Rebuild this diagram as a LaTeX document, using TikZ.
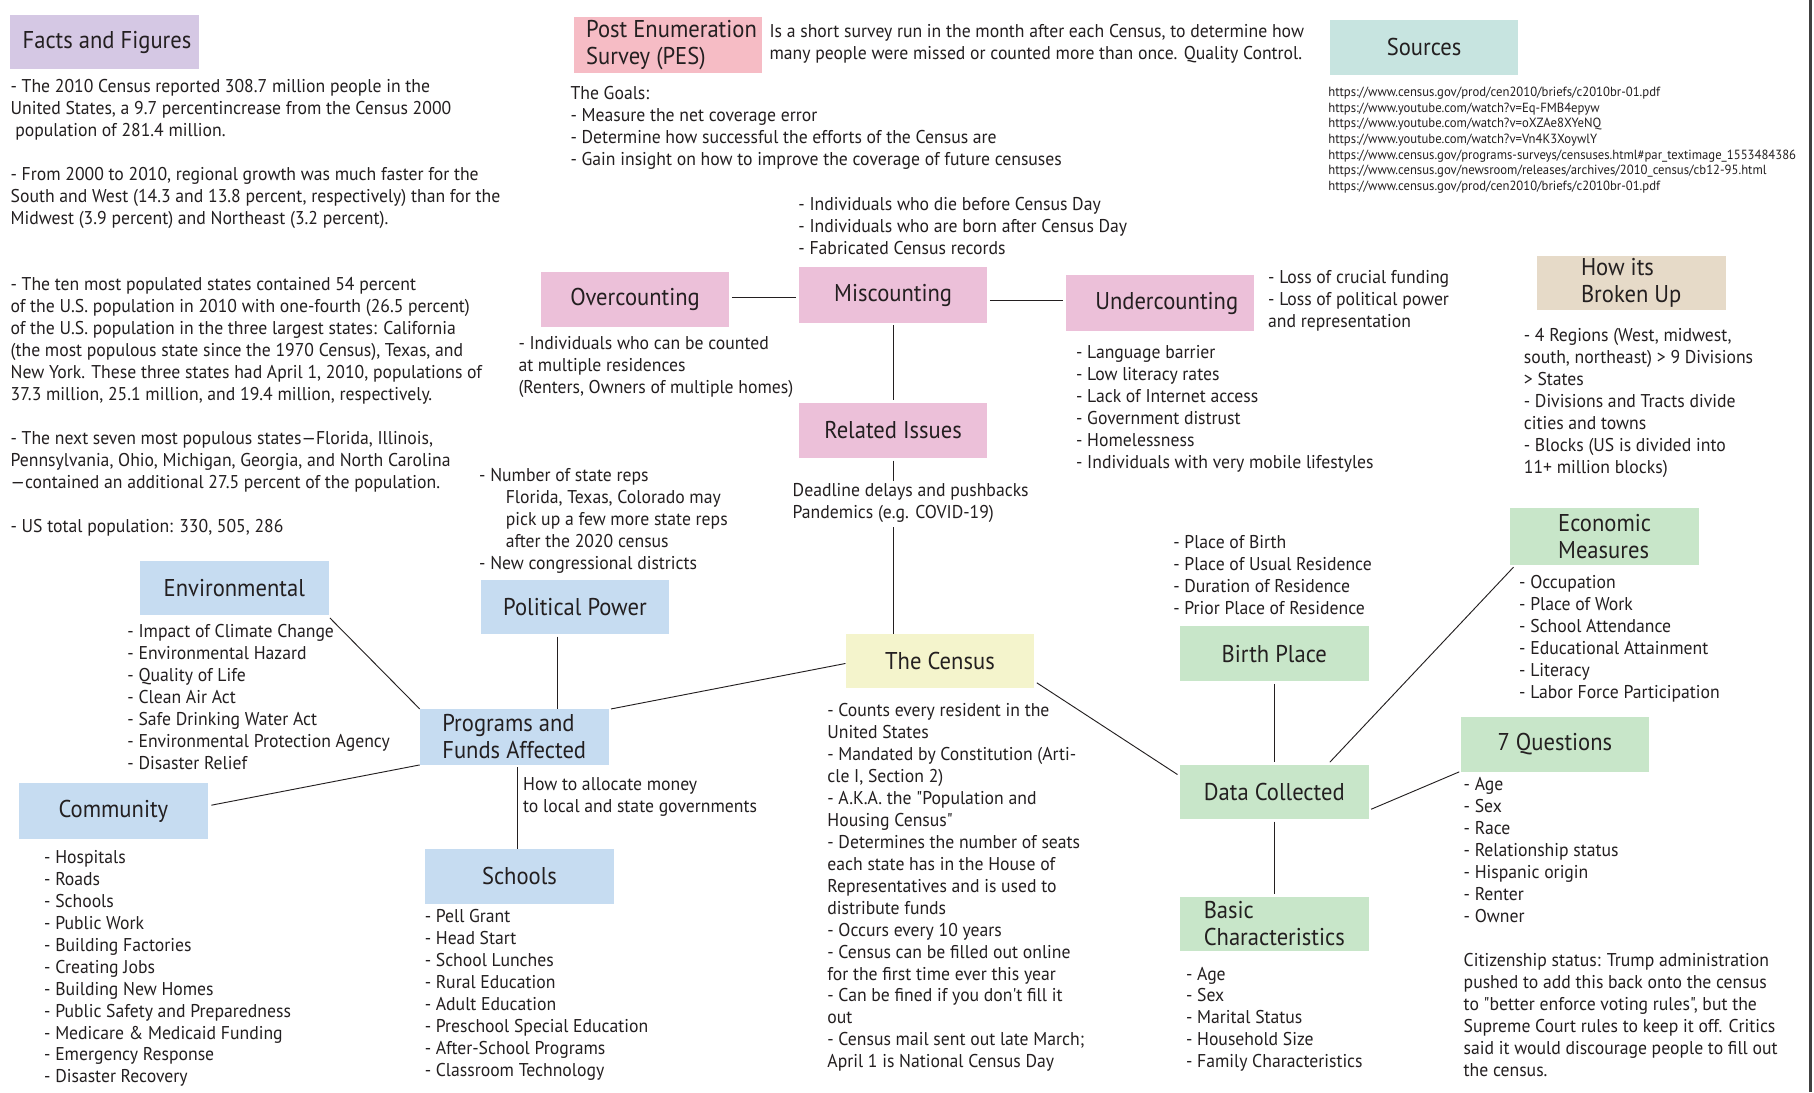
\documentclass[tikz,border=0pt]{standalone}
\usepackage{fontspec}
\setmainfont[FakeStretch=0.955, Ligatures=TeXOff]{PT Sans}
\newfontfamily\titlefam[FakeStretch=0.93, Ligatures=TeXOff]{PT Sans}
\usetikzlibrary{calc}
\definecolor{ink}{HTML}{231F20}
\definecolor{cFacts}{HTML}{D5C8E4}
\definecolor{cPes}{HTML}{F6BCC5}
\definecolor{cSrc}{HTML}{C7E4E0}
\definecolor{cMis}{HTML}{ECC0D9}
\definecolor{cHow}{HTML}{E6DAC8}
\definecolor{cBlue}{HTML}{C6DCF1}
\definecolor{cCen}{HTML}{F4F4CC}
\definecolor{cGreen}{HTML}{C8E6C9}
\newcommand\myBody{\fontsize{16}{19}\selectfont}
\newcommand\myTitle{\titlefam\fontsize{21}{23.5}\selectfont}
\newcommand\myUrl{\fontsize{11.5}{13.5}\selectfont}
\tikzset{
  box/.style={rectangle, inner sep=0pt, minimum width=163pt, minimum height=48pt, font=\myTitle, text=ink, align=left},
  txt/.style={anchor=north west, inner sep=0pt, align=left, font=\myBody, text=ink},
  link/.style={draw=ink, line width=0.8pt},
}
\begin{document}
\begin{tikzpicture}[x=1pt,y=-1pt]
\useasboundingbox (0,0) rectangle (1568,944);
\fill[white] (0,0) rectangle (1568,944);
\draw[line width=2pt, draw=black!75] (1565,0) -- (1565,944);

% ---------- boxes ----------
\node[box, fill=cFacts, minimum height=47pt] (facts) at (90.5,36.5) {\hspace*{4pt}Facts and Figures};
\node[box, fill=cPes] (pes) at (577.5,39) {\hspace*{6pt}Post Enumeration\\\hspace*{6pt}Survey (PES)};
\node[box, fill=cSrc] (src) at (1231,41) {Sources};
\node[box, fill=cMis] (over) at (549,259) {Overcounting};
\node[box, fill=cMis] (misc) at (772,255) {\raisebox{3pt}{Miscounting}};
\node[box, fill=cMis] (under) at (1002.5,262) {\hspace*{12pt}Undercounting};
\node[box, fill=cMis] (rel) at (772,372) {Related Issues};
\node[box, fill=cHow, minimum height=47pt] (how) at (1410,244.5) {How its\\Broken Up};
\node[box, fill=cBlue, minimum height=47pt] (env) at (202.5,508.5) {Environmental};
\node[box, fill=cBlue, minimum height=47pt] (pol) at (497,524.5) {Political Power};
\node[box, fill=cBlue] (prog) at (444.5,637) {Programs and\\Funds Affected};
\node[box, fill=cBlue] (comm) at (98,701) {Community};
\node[box, fill=cBlue, minimum height=47pt] (sch) at (449,757.5) {Schools};
\node[box, fill=cCen, minimum height=47pt] (cen) at (812.5,571.5) {The Census};
\node[box, fill=cGreen] (birth) at (1101.5,565) {Birth Place};
\node[box, fill=cGreen, minimum height=47pt] (data) at (1101.5,684.5) {Data Collected};
\node[box, fill=cGreen, minimum height=47pt] (basic) at (1101.5,798.5) {Basic\\Characteristics};
\node[box, fill=cGreen, minimum height=49pt] (econ) at (1387,463.5) {Economic\\Measures};
\node[box, fill=cGreen, minimum height=47pt] (q7) at (1344,643.5) {7 Questions};

% ---------- texts ----------
\node[txt] (factstxt) at (9,66.6) {\strut- The 2010 Census reported 308.7 million people in the\\
United States, a 9.7 percentincrease from the Census 2000\\
\hspace*{4pt}population of 281.4 million.\\ \strut\\
- From 2000 to 2010, regional growth was much faster for the\\
South and West (14.3 and 13.8 percent, respectively) than for the\\
Midwest (3.9 percent) and Northeast (3.2 percent).\\ \strut\\ \strut\\
- The ten most populated states contained 54 percent\\
of the U.S. population in 2010 with one-fourth (26.5 percent)\\
of the U.S. population in the three largest states: California\\
(the most populous state since the 1970 Census), Texas, and\\
New York. These three states had April 1, 2010, populations of\\
37.3 million, 25.1 million, and 19.4 million, respectively.\\ \strut\\
- The next seven most populous states—Florida, Illinois,\\
Pennsylvania, Ohio, Michigan, Georgia, and North Carolina\\
—contained an additional 27.5 percent of the population.\\ \strut\\
- US total population: 330, 505, 286};

\node[txt] (pestxt) at (665,18.6) {\strut Is a short survey run in the month after each Census, to determine how\\
many people were missed or counted more than once. Quality Control.};

\node[txt] (goals) at (493,72.6) {\strut The Goals:\\
- Measure the net coverage error\\
- Determine how successful the efforts of the Census are\\
- Gain insight on how to improve the coverage of future censuses};

\node[txt, font=\myUrl] (urls) at (1148,73.8) {\strut https://www.census.gov/prod/cen2010/briefs/c2010br-01.pdf\\
https://www.youtube.com/watch?v=Eq-FMB4epyw\\
https://www.youtube.com/watch?v=oXZAe8XYeNQ\\
https://www.youtube.com/watch?v=Vn4K3XoywlY\\
https://www.census.gov/programs-surveys/censuses.html\#par\_textimage\_1553484386\\
https://www.census.gov/newsroom/releases/archives/2010\_census/cb12-95.html\\
https://www.census.gov/prod/cen2010/briefs/c2010br-01.pdf};

\node[txt] (mistxt) at (690,168.6) {\strut- Individuals who die before Census Day\\
- Individuals who are born after Census Day\\
- Fabricated Census records};

\node[txt] (overtxt) at (448,288.6) {\strut- Individuals who can be counted\\
at multiple residences\\
(Renters, Owners of multiple homes)};

\node[txt] (undertxt) at (1096,231.6) {\strut- Loss of crucial funding\\
- Loss of political power\\
and representation};

\node[txt] (underlist) at (930,296.6) {\strut- Language barrier\\
- Low literacy rates\\
- Lack of Internet access\\
- Government distrust\\
- Homelessness\\
- Individuals with very mobile lifestyles};

\node[txt] (howtxt) at (1317,281.6) {\strut- 4 Regions (West, midwest,\\
south, northeast) > 9 Divisions\\
> States\\
- Divisions and Tracts divide\\
cities and towns\\
- Blocks (US is divided into\\
11+ million blocks)};

\node[txt] (poltxt) at (414,402.6) {\strut- Number of state reps\\
\hspace*{23pt}Florida, Texas, Colorado may\\
\hspace*{23pt}pick up a few more state reps\\
\hspace*{23pt}after the 2020 census\\
- New congressional districts};

\node[txt] (dl) at (685,415.6) {\strut Deadline delays and pushbacks\\
Pandemics (e.g. COVID-19)};

\node[txt] (envtxt) at (110,537.6) {\strut- Impact of Climate Change\\
- Environmental Hazard\\
- Quality of Life\\
- Clean Air Act\\
- Safe Drinking Water Act\\
- Environmental Protection Agency\\
- Disaster Relief};

\node[txt] (alloc) at (452,669.6) {\strut How to allocate money\\
to local and state governments};

\node[txt] (commtxt) at (38,732.6) {\strut- Hospitals\\
- Roads\\
- Schools\\
- Public Work\\
- Building Factories\\
- Creating Jobs\\
- Building New Homes\\
- Public Safety and Preparedness\\
- Medicare \& Medicaid Funding\\
- Emergency Response\\
- Disaster Recovery};

\node[txt] (schtxt) at (367,783.6) {\strut- Pell Grant\\
- Head Start\\
- School Lunches\\
- Rural Education\\
- Adult Education\\
- Preschool Special Education\\
- After-School Programs\\
- Classroom Technology};

\node[txt] (centxt) at (715,605.6) {\strut- Counts every resident in the\\
United States\\
- Mandated by Constitution (Arti-\\
cle I, Section 2)\\
- A.K.A. the "Population and\\
Housing Census"\\
- Determines the number of seats\\
each state has in the House of\\
Representatives and is used to\\
distribute funds\\
- Occurs every 10 years\\
- Census can be filled out online\\
for the first time ever this year\\
- Can be fined if you don't fill it\\
out\\
- Census mail sent out late March;\\
April 1 is National Census Day};

\node[txt] (birthtxt) at (1014,460.6) {\strut- Place of Birth\\
- Place of Usual Residence\\
- Duration of Residence\\
- Prior Place of Residence};

\node[txt] (basictxt) at (1025,833.6) {\strut- Age\\
- Sex\\
- Marital Status\\
- Household Size\\
- Family Characteristics};

\node[txt] (econtxt) at (1313,495.6) {\strut- Occupation\\
- Place of Work\\
- School Attendance\\
- Educational Attainment\\
- Literacy\\
- Labor Force Participation};

\node[txt] (q7txt) at (1265,669.6) {\strut- Age\\
- Sex\\
- Race\\
- Relationship status\\
- Hispanic origin\\
- Renter\\
- Owner};

\node[txt] (citz) at (1265,821.6) {\strut Citizenship status: Trump administration\\
pushed to add this back onto the census\\
to "better enforce voting rules", but the\\
Supreme Court rules to keep it off. Critics\\
said it would discourage people to fill out\\
the census.};

% ---------- connectors ----------
\draw[link] ([xshift=2pt,yshift=2pt]over.east) -- ([xshift=-2pt,yshift=2pt]over.east -| misc.west);
\draw[link] ([xshift=2pt,yshift=-5pt]misc.east) -- ([xshift=-2pt,yshift=-5pt]misc.east -| under.west);
\draw[link] ([yshift=-2pt]misc.south) -- ([yshift=2pt]rel.north);
\draw[link] ([yshift=-2pt]rel.south) -- (rel.south |- dl.north);
\draw[link] ([yshift=-4pt]rel.south |- dl.south) -- ([xshift=0pt]rel.south |- cen.north);
\draw[link] ([xshift=-15pt,yshift=-2pt]pol.south) -- ([xshift=-15pt]pol.south |- prog.north);
\draw[link] ([xshift=1pt,yshift=-2pt]env.south east) -- (prog.north west);
\draw[link] ([xshift=2pt]prog.north east) -- ([yshift=-2pt]cen.west);
\draw[link] (prog.south west) -- ([xshift=3pt,yshift=5pt]comm.east);
\draw[link] ([xshift=3pt,yshift=-2pt]prog.south) -- ([xshift=3pt]prog.south |- sch.north);
\draw[link] ([xshift=2pt,yshift=5pt]cen.south east) -- ([xshift=-2pt,yshift=15pt]data.west);
\draw[link] ([yshift=-2pt]birth.south) -- ([yshift=2pt]data.north);
\draw[link] ([yshift=-2pt]data.south) -- ([yshift=2pt]basic.north);
\draw[link] ([xshift=48pt,yshift=2pt]data.north) -- ([xshift=3pt,yshift=-2pt]econ.south west);
\draw[link] ([xshift=2pt,yshift=-15pt]data.east) -- ([xshift=-1pt]q7.south west);
\end{tikzpicture}
\end{document}
